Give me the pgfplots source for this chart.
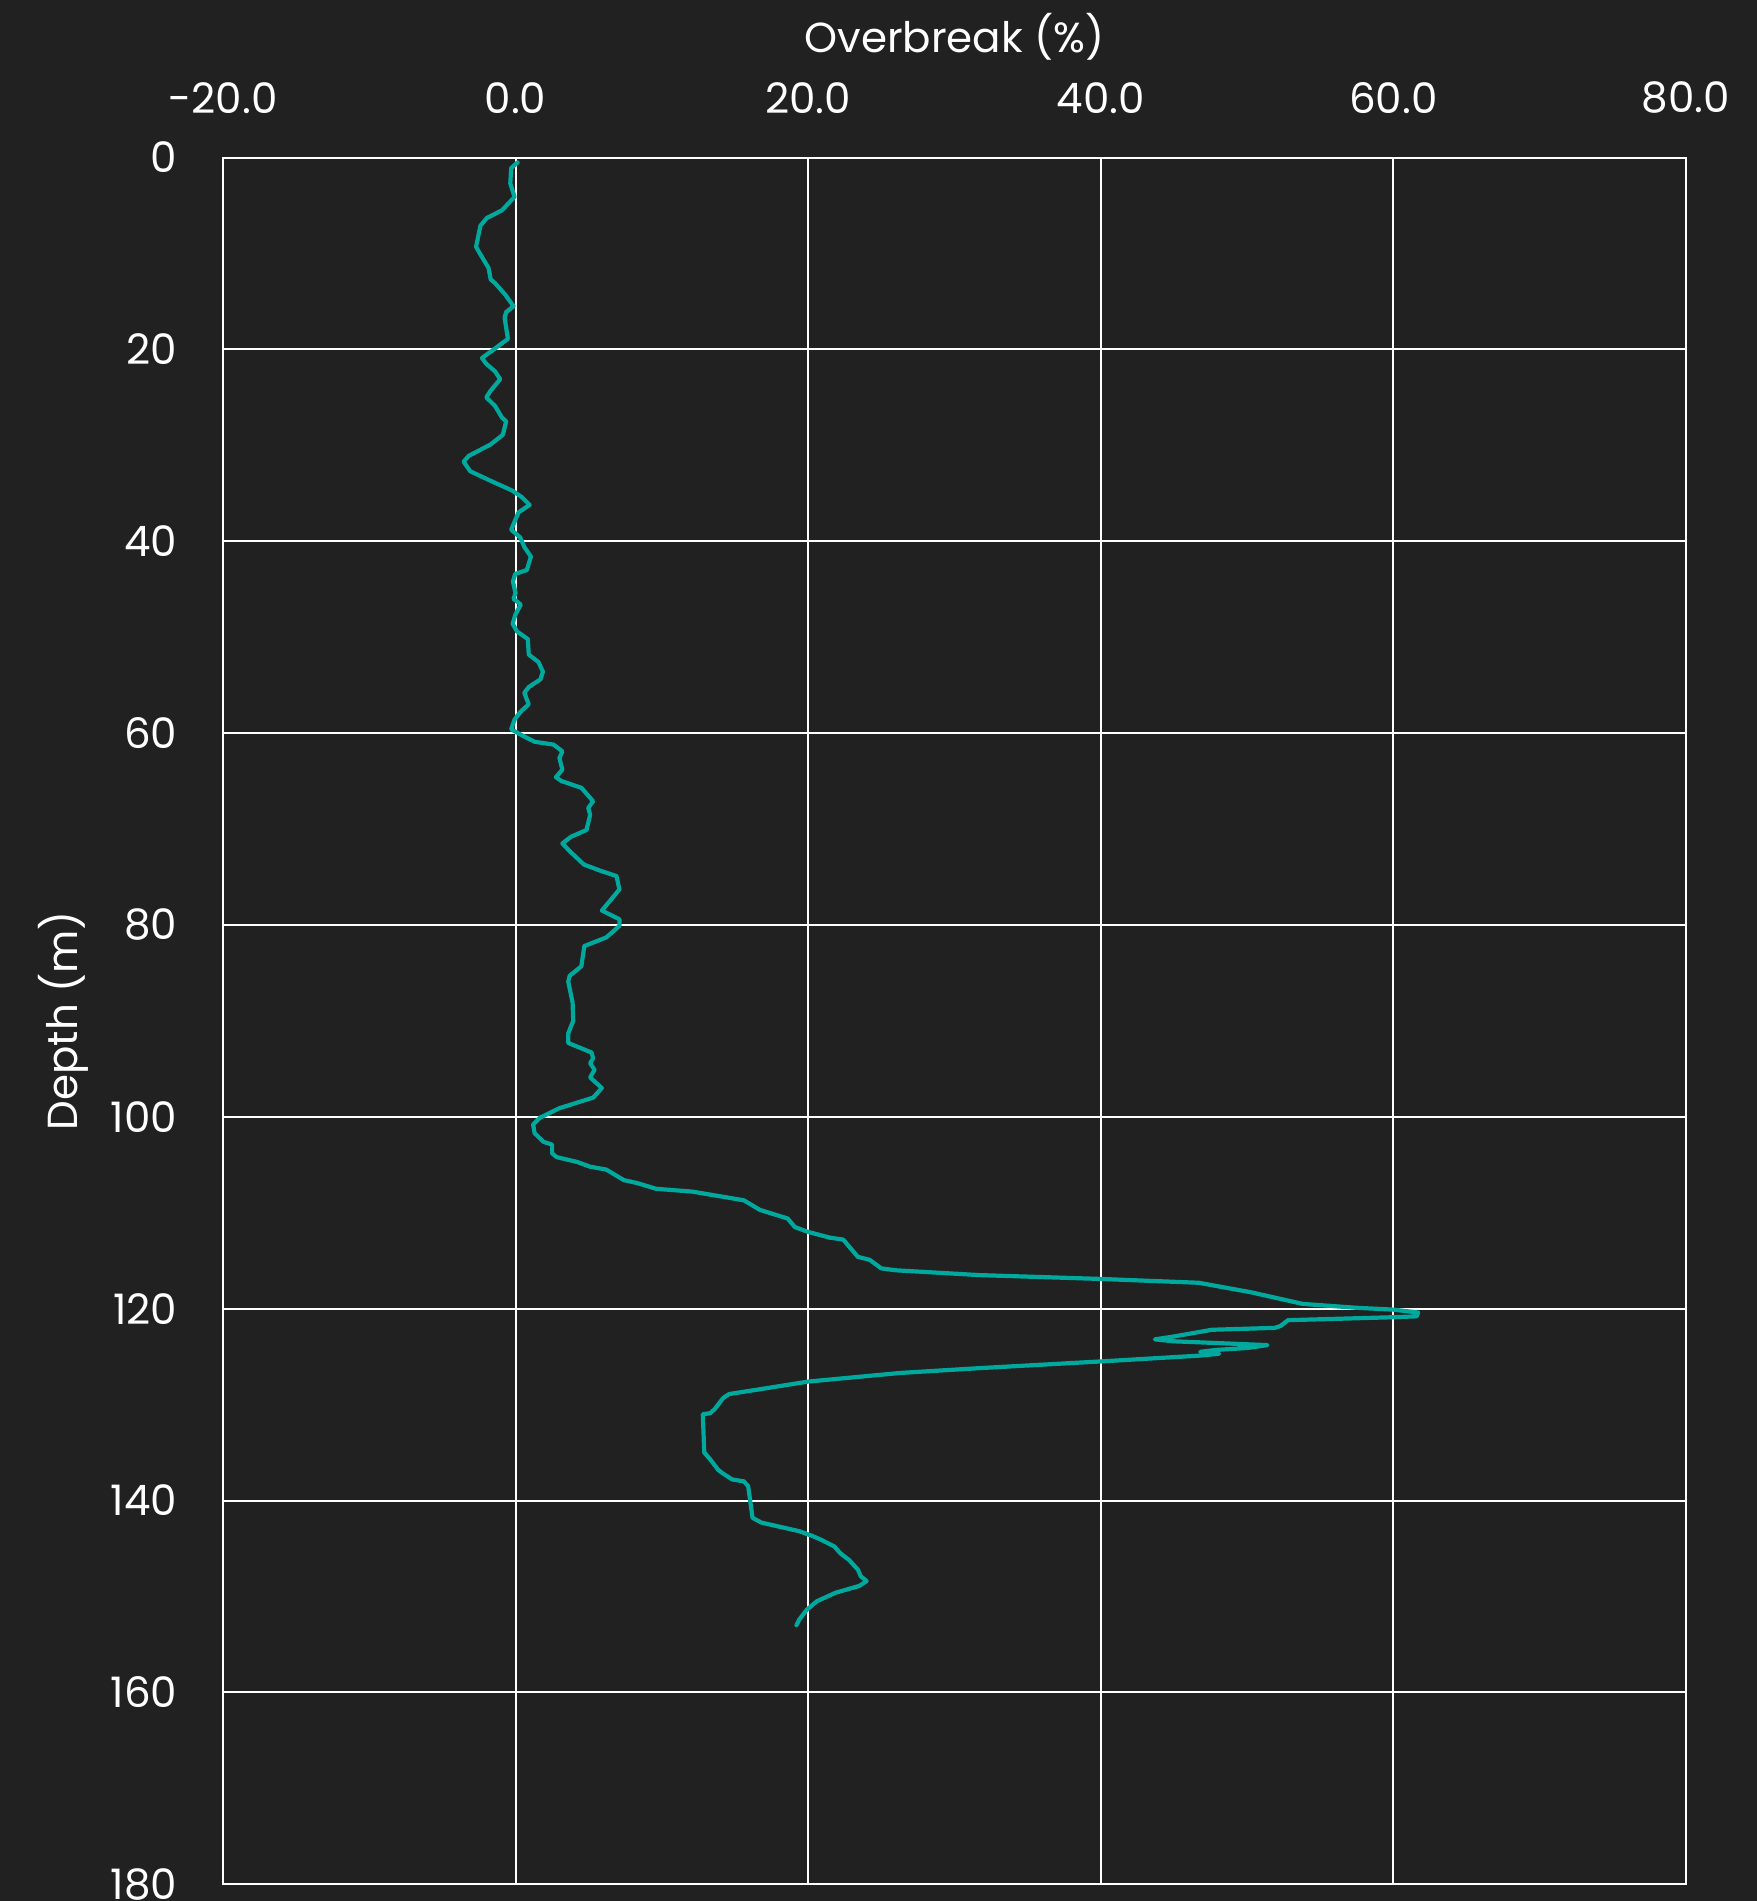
\documentclass[border=0pt]{standalone}
\usepackage{pgfplots}
\pgfplotsset{compat=1.18}
\usepackage{fontspec}
\setmainfont{Poppins}
\usetikzlibrary{backgrounds}
\definecolor{bgc}{HTML}{212121}
\definecolor{teal1}{HTML}{00A99D}
\begin{document}
\begin{tikzpicture}
\begin{axis}[
  name=ax,
  scale only axis,
  width=365.75pt, height=431.7pt,
  xmin=-20, xmax=80, ymin=0, ymax=180,
  y dir=reverse,
  xtick={-20,0,20,40,60,80},
  ytick={0,20,40,60,80,100,120,140,160,180},
  major tick length=0pt,
  grid=major,
  grid style={white, line width=0.5pt},
  axis line style={white, line width=0.5pt},
  xticklabel pos=top,
  /pgf/number format/assume math mode=true,
  xticklabel={\pgfmathprintnumber[fixed, fixed zerofill, precision=1]{\tick}},
  yticklabel={\pgfmathprintnumber[fixed, precision=0]{\tick}},
  tick label style={font=\fontsize{10.5}{12}\selectfont, text=white, inner sep=0pt},
  xticklabel style={anchor=center, yshift=14.9pt},
  yticklabel style={anchor=east, xshift=-11.25pt},
  xlabel={Overbreak (\%)},
  ylabel={Depth (m)},
  label style={font=\fontsize{10.5}{12}\selectfont, text=white, inner sep=0pt},
  xlabel style={at={(axis description cs:0.5,1.0702)}, anchor=center},
  ylabel style={at={(axis description cs:-0.109,0.5)}, anchor=center},
]
\addplot[teal1, line width=1.05pt, line join=round, line cap=round] coordinates {
(0.14,0.5)(-0.3,1.1)(-0.36,2.7)(-0.07,4.1)(-0.93,5.5)(-1.96,6.3)(-2.4,7.1)(-2.7,9.3)(-2.4,10.1)(-1.85,11.5)(-1.7,12.7)(-1.4,13.1)(-0.7,14.3)(-0.14,15.5)(-0.64,16.1)(-0.75,16.7)(-0.52,18.9)(-1.4,19.9)(-2.3,20.9)(-2.0,21.5)(-1.4,22.3)(-1.05,23.1)(-1.7,24.3)(-2.0,25.0)(-1.4,25.9)(-0.93,27.1)(-0.64,27.5)(-0.87,28.9)(-1.7,29.9)(-3.2,31.1)(-3.55,31.7)(-3.1,32.7)(-1.7,33.7)(-0.25,34.7)(0.43,35.4)(0.96,36.2)(0.2,37.0)(-0.3,38.8)(0.32,39.6)(0.6,40.6)(1.05,41.6)(0.77,43.0)(-0.02,43.4)(-0.18,44.2)(0,45.4)(-0.14,46.0)(0.36,46.6)(0,47.6)(-0.2,48.6)(0.1,49.4)(0.84,50.2)(0.9,51.8)(1.57,52.6)(1.87,53.6)(1.7,54.4)(0.9,55.2)(0.6,55.8)(0.9,57.0)(0.32,57.8)(-0.07,58.6)(-0.3,59.6)(0.52,60.3)(1.3,60.9)(2.6,61.2)(3.2,61.9)(3.0,62.6)(3.2,63.8)(2.76,64.6)(3.14,65.0)(4.5,65.7)(5.3,67.1)(4.97,67.8)(5.1,68.5)(4.85,70.1)(3.8,70.8)(3.2,71.5)(3.7,72.3)(4.67,73.7)(5.9,74.4)(6.9,74.9)(7.1,76.3)(5.9,78.5)(7.1,79.4)(7.1,80.1)(6.2,81.3)(4.7,82.2)(4.5,84.3)(3.7,85.3)(3.6,85.9)(3.9,88.1)(3.94,90.0)(3.6,91.3)(3.6,92.3)(5.2,93.3)(5.3,93.9)(5.1,94.4)(5.4,95.1)(5.1,95.9)(5.9,97.0)(5.3,98.0)(3.0,99.1)(1.66,100.1)(1.2,100.8)(1.3,101.7)(1.9,102.6)(2.5,102.9)(2.5,103.8)(2.8,104.2)(4.2,104.7)(5.1,105.2)(6.2,105.5)(7.4,106.6)(8.3,106.9)(9.6,107.5)(12.1,107.8)(15.6,108.7)(16.7,109.7)(18.6,110.6)(19.1,111.5)(20.0,112.0)(21.5,112.6)(22.4,112.8)(23.4,114.6)(24.2,114.9)(25.0,115.8)(26.0,116.0)(31.7,116.5)(40,116.9)(46.7,117.3)(50.3,118.3)(53.8,119.5)(57.4,119.9)(60,120.1)(61.7,120.4)(61.6,120.8)(59.8,120.9)(52.8,121.2)(52.3,121.8)(51.9,122.0)(47.6,122.2)(45.0,122.9)(43.7,123.2)(45.0,123.4)(51.4,123.8)(50.0,124.1)(47.9,124.3)(46.8,124.5)(48.1,124.7)(46.7,124.9)(40,125.5)(31.7,126.2)(26.3,126.7)(24.9,126.9)(20.0,127.6)(16.7,128.4)(14.6,128.9)(14.2,129.3)(13.6,130.5)(13.3,130.9)(12.8,131.0)(12.9,135.0)(13.3,135.7)(13.85,136.8)(14.1,137.1)(14.8,137.8)(15.6,138.0)(15.9,138.5)(16.2,141.8)(16.8,142.3)(19.4,143.2)(20.3,143.7)(20.9,144.1)(21.8,144.8)(22.2,145.5)(22.8,146.2)(23.4,147.2)(23.6,147.9)(24.0,148.4)(23.5,148.9)(21.9,149.6)(20.6,150.5)(19.9,151.4)(19.4,152.4)(19.2,153.0)
};
\end{axis}
\pgfresetboundingbox
\begin{scope}[on background layer]
\fill[bgc] ([xshift=-55.75pt, yshift=-4.2pt]ax.south west) rectangle ([xshift=17.75pt, yshift=39.4pt]ax.north east);
\end{scope}
\end{tikzpicture}
\end{document}
